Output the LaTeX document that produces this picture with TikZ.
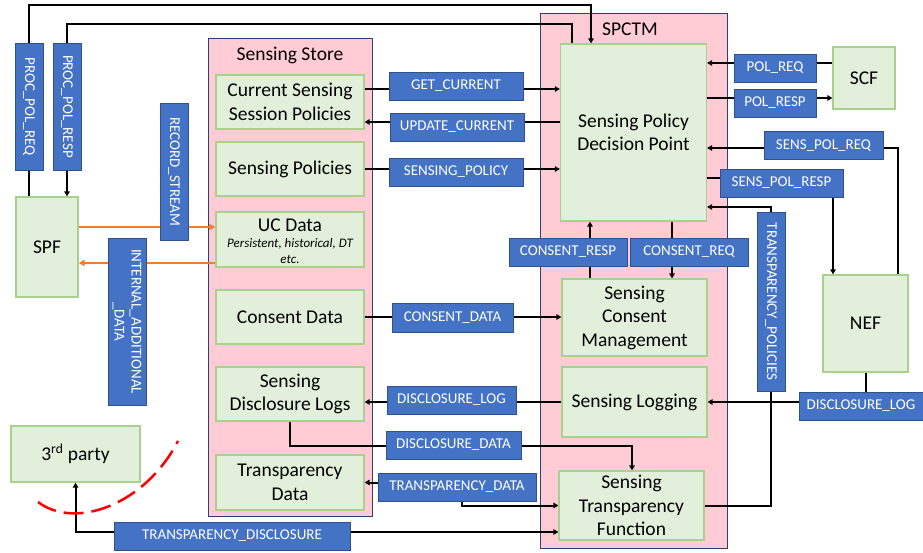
\documentclass[tikz,border=0pt]{standalone}
\usepackage{fontspec}
\setmainfont{Carlito}
\usetikzlibrary{arrows.meta,calc}
\pgfdeclarelayer{back}
\pgfdeclarelayer{mid}
\pgfsetlayers{back,mid,main}
\definecolor{lblue}{HTML}{4472C4}
\definecolor{lblueb}{HTML}{2F528F}
\definecolor{gfill}{HTML}{E2EFDA}
\definecolor{gdraw}{HTML}{A9D18E}
\definecolor{pinkf}{HTML}{FFCCD5}
\definecolor{contb}{HTML}{2F3F6F}
\definecolor{orng}{HTML}{ED7D31}
\newcommand{\smit}{\fontsize{13}{16}\itshape\selectfont}
\tikzset{
  lbl/.style={fill=lblue, draw=lblueb, line width=0.9pt, text=white, inner sep=0pt,
    font=\fontsize{15}{17}\selectfont, align=center},
  gbox/.style={fill=gfill, draw=gdraw, line width=1.2pt, text=black, inner sep=0pt,
    font=\fontsize{19.5}{23.5}\selectfont, align=center},
  cont/.style={fill=pinkf, draw=contb, line width=0.9pt, inner sep=0pt},
  ttl/.style={font=\fontsize{19.5}{23.5}\selectfont, inner sep=0pt},
  sz/.style 2 args={minimum width=#1pt, minimum height=#2pt},
  ln/.style={line width=2pt, -{Triangle[length=5pt,width=5.5pt]}},
  lnb/.style={line width=2pt, {Triangle[length=5pt,width=5.5pt]}-{Triangle[length=5pt,width=5.5pt]}},
  oln/.style={line width=1.6pt, draw=orng, -{Triangle[length=6pt,width=6pt]}},
}
\begin{document}
\begin{tikzpicture}[x=1pt,y=-1pt]
\useasboundingbox (0,0) rectangle (923,552);
\begin{pgfonlayer}{back}
\fill[white] (0,0) rectangle (923,552);
\node[cont, sz={164}{478}] (Store) at (290,277) {};
\node[cont, sz={187}{535}] (SPCTM) at (633.5,280.5) {};
\end{pgfonlayer}
\node[ttl] (StoreT) at (290,55) {Sensing Store};
\node[ttl] (SPCTMT) at (630,29) {SPCTM};
% green boxes
\node[gbox, sz={62}{100}] (SPF) at (47,247) {SPF};
\node[gbox, sz={148}{54}] (CSSP) at (290,102) {Current Sensing\\Session Policies};
\node[gbox, sz={148}{54}] (SP) at (290,169) {Sensing Policies};
\node[gbox, sz={148}{55}] (UCD) at (290,239.5) {};
\node[ttl] (UCDt) at (290,225) {UC Data};
\node[inner sep=0pt, align=center, font=\smit] (UCDs) at (290,251) {Persistent, historical, DT\\etc.};
\node[gbox, sz={148}{54}] (CD) at (290,317) {Consent Data};
\node[gbox, sz={148}{54}] (SDL) at (290,394) {Sensing\\Disclosure Logs};
\node[gbox, sz={148}{55}] (TD) at (290,482.5) {Transparency\\Data};
\node[gbox, sz={146}{177}] (SPDP) at (633.5,132.5) {Sensing Policy\\Decision Point};
\node[gbox, sz={145}{77}] (SCM) at (634.5,317.5) {Sensing\\Consent\\Management};
\node[gbox, sz={145}{70}] (SL) at (634.5,402) {Sensing Logging};
\node[gbox, sz={145}{69}] (STF) at (631.5,505.5) {Sensing\\Transparency\\Function};
\node[gbox, sz={62}{62}] (SCF) at (864,78) {SCF};
\node[gbox, sz={85}{97}] (NEF) at (865.5,323.5) {NEF};
\node[gbox, sz={129}{56}] (Third) at (75.5,454) {3\textsuperscript{rd} party};
% blue labels
\node[lbl, sz={127}{28}, rotate=-90] (PPREQ) at (29,106.5) {PROC\_POL\_REQ};
\node[lbl, sz={127}{28}, rotate=-90] (PPRESP) at (67,106.5) {PROC\_POL\_RESP};
\node[lbl, sz={137}{28}, rotate=-90] (RECS) at (174,171.5) {RECORD\_STREAM};
\node[lbl, sz={167}{38}, rotate=-90] (INTADD) at (127,321.5) {INTERNAL\_ADDITIONAL\\\_DATA};
\node[lbl, sz={134}{28}] (GET) at (456,86) {GET\_CURRENT};
\node[lbl, sz={134}{28}] (UPD) at (457,127) {UPDATE\_CURRENT};
\node[lbl, sz={134}{28}] (SPOL) at (456,172) {SENSING\_POLICY};
\node[lbl, sz={82}{28}] (POLREQ) at (775,68) {POL\_REQ};
\node[lbl, sz={82}{28}] (POLRESP) at (775,103) {POL\_RESP};
\node[lbl, sz={119}{28}] (SPREQ) at (823.5,145.5) {SENS\_POL\_REQ};
\node[lbl, sz={123}{28}] (SPRESP) at (781.5,183) {SENS\_POL\_RESP};
\node[lbl, sz={179}{28}, rotate=-90] (TPOL) at (771,301.5) {TRANSPARENCY\_POLICIES};
\node[lbl, sz={118}{28}] (CRESP) at (568,252) {CONSENT\_RESP};
\node[lbl, sz={118}{28}] (CREQ) at (689,252) {CONSENT\_REQ};
\node[lbl, sz={121}{29}] (CDATA) at (452.5,317.5) {CONSENT\_DATA};
\node[lbl, sz={129}{28}] (DLOG1) at (451.5,400) {DISCLOSURE\_LOG};
\node[lbl, sz={124}{28}] (DLOG2) at (861,406) {DISCLOSURE\_LOG};
\node[lbl, sz={135}{28}] (DDATA) at (453.5,445) {DISCLOSURE\_DATA};
\node[lbl, sz={158}{28}] (TDATA) at (457,487) {TRANSPARENCY\_DATA};
\node[lbl, sz={236}{28}] (TDISC) at (232,536) {TRANSPARENCY\_DISCLOSURE};
% helper levels
\coordinate (y5) at (0,5);
\coordinate (y24) at (0,24);
\coordinate (y63) at (0,63);
\coordinate (y89) at (0,89);
\coordinate (y98) at (0,98);
\coordinate (y122) at (0,122);
\coordinate (y148) at (0,148);
\coordinate (y178) at (0,178);
\coordinate (y207) at (0,207);
\coordinate (y227) at (0,227);
\coordinate (y263) at (0,263);
\coordinate (y446) at (0,446);
\coordinate (y532) at (0,532);
\coordinate (x462) at (462,0);
\coordinate (x572) at (572,0);
\coordinate (x590) at (590,0);
\coordinate (x591) at (591,0);
\coordinate (x632) at (632,0);
\coordinate (x672) at (672,0);
\coordinate (x771) at (771,0);
\coordinate (x833) at (833,0);
\coordinate (x898) at (898,0);
\begin{pgfonlayer}{mid}
\draw[ln] (SPF.north -| PPREQ.center) -- (PPREQ.center |- y5) -- (x591 |- y5) -- (SPDP.north -| x591);
\draw[ln] (SPDP.north -| x572) -- (x572 |- y24) -- (PPRESP.center |- y24) -- (SPF.north -| PPRESP.center);
\draw[oln] (SPF.east |- y227) -- (UCD.west |- y227);
\draw[oln] (UCD.west |- y263) -- (SPF.east |- y263);
\draw[ln] (CSSP.east |- y89) -- (SPDP.west |- y89);
\draw[ln] (SPDP.west |- y122) -- (CSSP.east |- y122);
\draw[ln] (SP.east) -- (SP.east -| SPDP.west);
\draw[ln] (SCF.west |- y63) -- (SPDP.east |- y63);
\draw[ln] (SPDP.east |- y98) -- (SCF.west |- y98);
\draw[ln] (NEF.north -| x898) |- (SPDP.east |- y148);
\draw[ln] (SPDP.east |- y178) -| (NEF.north -| x833);
\draw[ln] (STF.east) -| (x771 |- y207) -- (SPDP.east |- y207);
\draw[ln] (SCM.north -| x590) -- (SPDP.south -| x590);
\draw[ln] (SPDP.south -| x672) -- (SCM.north -| x672);
\draw[ln] (CD.east) -- (CD.east -| SCM.west);
\draw[ln] (SL.west) -- (SL.west -| SDL.east);
\draw[ln] (NEF.south) |- (SL.east);
\draw[ln] (SDL.south) |- (x632 |- y446) -- (STF.north -| x632);
\draw[lnb] (TD.east) -| (x462 |- STF.west) -- (STF.west);
\draw[lnb] (Third.south) |- (STF.west |- y532);
\end{pgfonlayer}
\draw[draw=red, line width=2.5pt, dash pattern=on 20pt off 8pt]
  (38,502) .. controls (75,530) and (145,505) .. (178,441);
\end{tikzpicture}
\end{document}
